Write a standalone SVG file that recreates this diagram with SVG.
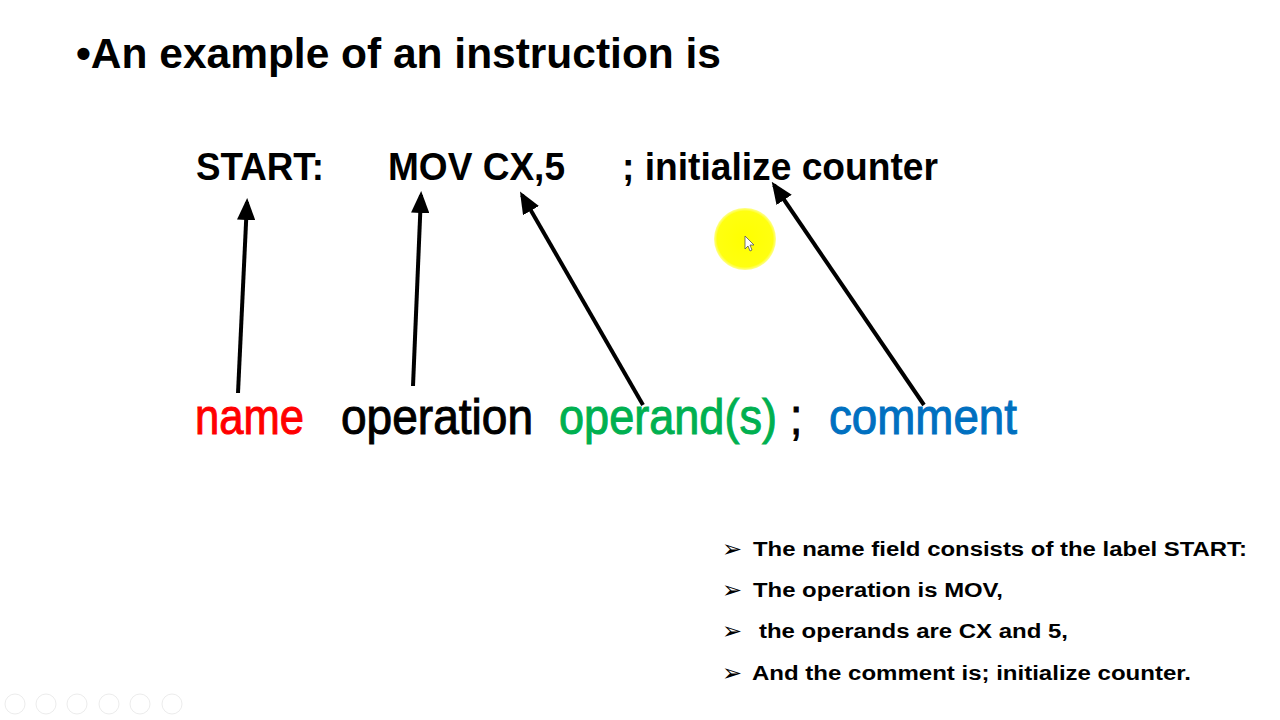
<svg xmlns="http://www.w3.org/2000/svg" width="1280" height="720" viewBox="0 0 1280 720">
  <defs>
    <style>
      .b { font-family: "Liberation Sans", Arial, sans-serif; font-weight: bold; fill: #000; }
      .lbl { font-family: "Liberation Sans", Arial, sans-serif; font-size: 44px; stroke-width: 0.9; }
      .li { font-family: "Liberation Sans", Arial, sans-serif; font-weight: bold; font-size: 20px; fill: #000; }
      .mk { font-family: "DejaVu Sans", sans-serif; font-size: 24px; fill: #000; }
      .conn line { stroke: #000; stroke-width: 4; }
      .ctl circle { fill: none; stroke: #ececec; stroke-width: 1; }
    </style>
    <marker id="ah" markerWidth="5.5" markerHeight="4.6" refX="4.5" refY="2.3" orient="auto" markerUnits="strokeWidth">
      <path d="M0,0 L5.5,2.3 L0,4.6 z" fill="#000"/>
    </marker>
    <radialGradient id="glow" cx="50%" cy="50%" r="50%">
      <stop offset="0" stop-color="#ffff00"/>
      <stop offset="0.9" stop-color="#ffff10"/>
      <stop offset="1" stop-color="#ffff40" stop-opacity="0.6"/>
    </radialGradient>
  </defs>
  <rect width="1280" height="720" fill="#ffffff"/>

  <g id="title">
    <text class="b" x="76" y="68" font-size="42" textLength="645" lengthAdjust="spacingAndGlyphs">•An example of an instruction is</text>
  </g>

  <g id="instruction">
    <text id="start" class="b" x="196" y="180" font-size="38" textLength="128" lengthAdjust="spacingAndGlyphs">START:</text>
    <text id="mov" class="b" x="388" y="180" font-size="38" textLength="177" lengthAdjust="spacingAndGlyphs">MOV CX,5</text>
    <text id="cmt" class="b" x="622" y="180" font-size="38" textLength="316" lengthAdjust="spacingAndGlyphs">; initialize counter</text>
  </g>

  <g id="highlight">
    <circle cx="745" cy="239" r="31" fill="url(#glow)"/>
    <path d="M745,236 L745,249 L748,246 L750,251 L752,250 L750,245 L754,245 z" fill="#fff" stroke="#555" stroke-width="0.8"/>
  </g>

  <g class="conn" id="connectors">
    <line x1="238" y1="393" x2="247" y2="202" marker-end="url(#ah)"/>
    <line x1="413" y1="386" x2="421" y2="195" marker-end="url(#ah)"/>
    <line x1="643" y1="405" x2="522" y2="195" marker-end="url(#ah)"/>
    <line x1="924" y1="405" x2="774" y2="185" marker-end="url(#ah)"/>
  </g>

  <g id="labels" transform="translate(0,434) scale(1,1.12) translate(0,-434)">
    <text id="name" class="lbl" x="195" y="434" fill="#ff0000" stroke="#ff0000" textLength="109" lengthAdjust="spacingAndGlyphs">name</text>
    <text id="operation" class="lbl" x="341" y="434" fill="#000000" stroke="#000000" textLength="192" lengthAdjust="spacingAndGlyphs">operation</text>
    <text id="operands" class="lbl" x="559" y="434" fill="#00b050" stroke="#00b050" textLength="218" lengthAdjust="spacingAndGlyphs">operand(s)</text>
    <text id="semi" class="lbl" x="790" y="434" fill="#000000" stroke="#000000">;</text>
    <text id="comment" class="lbl" x="829" y="434" fill="#0070c0" stroke="#0070c0" textLength="188" lengthAdjust="spacingAndGlyphs">comment</text>
  </g>

  <g id="notes">
    <text class="mk" x="722" y="557">➢</text>
    <text class="li" x="753" y="556" textLength="494" lengthAdjust="spacingAndGlyphs">The name field consists of the label START:</text>
    <text class="mk" x="722" y="598">➢</text>
    <text class="li" x="753" y="597" textLength="250" lengthAdjust="spacingAndGlyphs">The operation is MOV,</text>
    <text class="mk" x="722" y="639">➢</text>
    <text class="li" x="759" y="638" textLength="309" lengthAdjust="spacingAndGlyphs">the operands are CX and 5,</text>
    <text class="mk" x="722" y="681">➢</text>
    <text class="li" x="752" y="680" textLength="439" lengthAdjust="spacingAndGlyphs">And the comment is; initialize counter.</text>
  </g>

  <g class="ctl" id="controls">
    <circle cx="15" cy="704" r="10"/>
    <circle cx="46" cy="704" r="10"/>
    <circle cx="77" cy="704" r="10"/>
    <circle cx="109" cy="704" r="10"/>
    <circle cx="140" cy="704" r="10"/>
    <circle cx="172" cy="704" r="10"/>
  </g>
</svg>
